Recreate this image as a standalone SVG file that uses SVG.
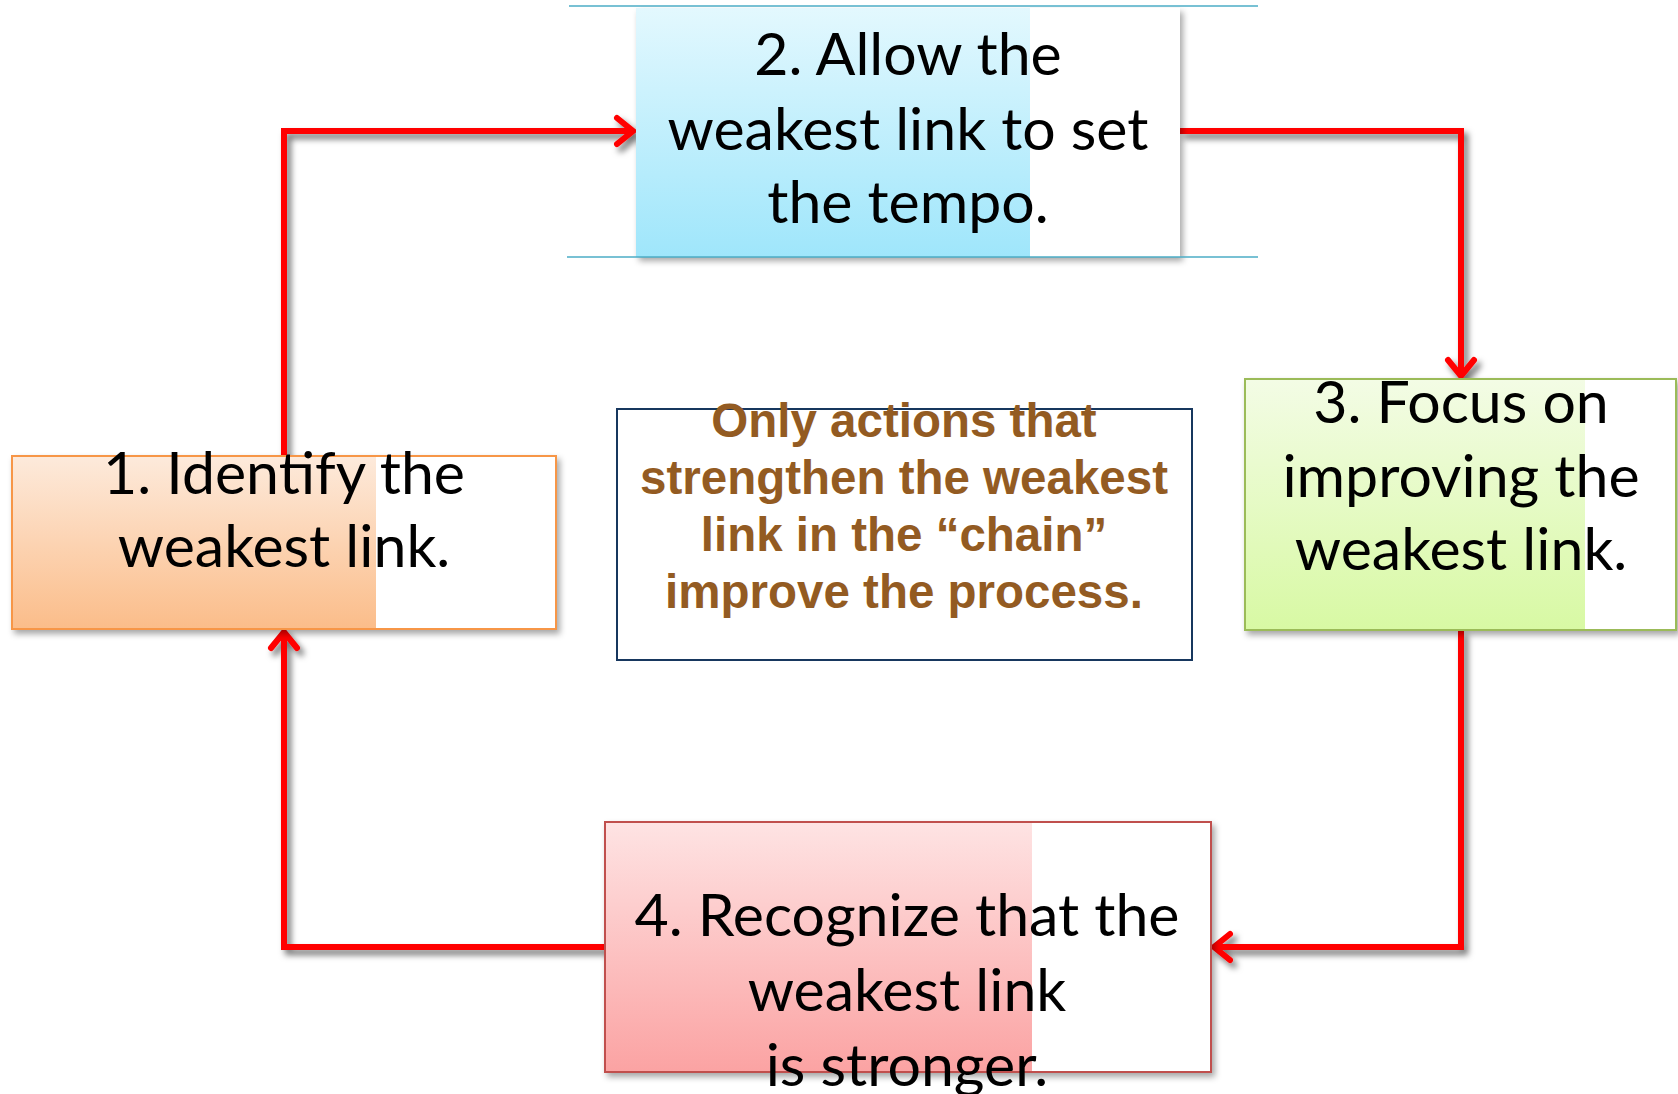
<svg xmlns="http://www.w3.org/2000/svg" width="1678" height="1094" viewBox="0 0 1678 1094">
<style>
.lbl{font-family:Lato,"Open Sans","Liberation Sans",sans-serif;font-size:59px;fill:#000;text-anchor:middle}
.ctr{font-family:"Liberation Sans",Arial,sans-serif;font-weight:bold;font-size:47.5px;fill:#935b22;text-anchor:middle}
.conn{fill:none;stroke:#ff0000;stroke-width:6;stroke-linejoin:miter}
</style>
<defs>
<filter id="sh" x="-10%" y="-10%" width="125%" height="130%">
<feDropShadow dx="3" dy="4" stdDeviation="3" flood-color="#000" flood-opacity="0.35"/>
</filter>
<filter id="lsh" x="-10%" y="-10%" width="120%" height="120%">
<feDropShadow dx="4" dy="5" stdDeviation="3" flood-color="#000" flood-opacity="0.55"/>
</filter>
<linearGradient id="gBlue" x1="0" y1="0" x2="0" y2="1"><stop offset="0" stop-color="#e3f8fe"/><stop offset="1" stop-color="#9fe6fb"/></linearGradient>
<linearGradient id="gOr" x1="0" y1="0" x2="0" y2="1"><stop offset="0" stop-color="#fdeadb"/><stop offset="1" stop-color="#fbbd8a"/></linearGradient>
<linearGradient id="gGr" x1="0" y1="0" x2="0" y2="1"><stop offset="0" stop-color="#f3fce5"/><stop offset="1" stop-color="#d8f9a4"/></linearGradient>
<linearGradient id="gRd" x1="0" y1="0" x2="0" y2="1"><stop offset="0" stop-color="#fee3e3"/><stop offset="1" stop-color="#fba3a3"/></linearGradient>
<marker id="arr" markerUnits="userSpaceOnUse" markerWidth="40" markerHeight="40" refX="20" refY="20" orient="auto" viewBox="0 0 40 40">
<path d="M4,7 L20,20 L4,33" fill="none" stroke="#ff0000" stroke-width="6" stroke-linecap="round" stroke-linejoin="miter"/>
</marker>
</defs>
<rect width="1678" height="1094" fill="#fff"/>

<g id="connectors" filter="url(#lsh)">
<path class="conn" d="M284,456 V131 H633" marker-end="url(#arr)"/>
<path class="conn" d="M1180,131 H1461 V376" marker-end="url(#arr)"/>
<path class="conn" d="M1461,630 V947 H1214" marker-end="url(#arr)"/>
<path class="conn" d="M605,947 H284 V632" marker-end="url(#arr)"/>
</g>

<g id="node2">
<rect x="636" y="8" width="544" height="249" fill="#fff" filter="url(#sh)"/>
<rect x="636" y="8" width="394" height="249" fill="url(#gBlue)"/>
<line x1="569" y1="6" x2="1258" y2="6" stroke="#4bacc6" stroke-width="1.5"/>
<line x1="567" y1="257" x2="1258" y2="257" stroke="#4bacc6" stroke-width="1.5"/>
<text class="lbl" x="908" y="75">2. Allow the</text>
<text class="lbl" x="908" y="150">weakest link to set</text>
<text class="lbl" x="908" y="223">the tempo.</text>
</g>

<g id="node1">
<rect x="12" y="456" width="544" height="173" fill="#fff" stroke="#f79646" stroke-width="2" filter="url(#sh)"/>
<rect x="13" y="457" width="363" height="171" fill="url(#gOr)"/>
<text class="lbl" x="284" y="494">1. Identify the</text>
<text class="lbl" x="284" y="567">weakest link.</text>
</g>

<g id="node3">
<rect x="1245" y="379" width="431" height="251" fill="#fff" stroke="#9bbb59" stroke-width="2" filter="url(#sh)"/>
<rect x="1246" y="380" width="339" height="249" fill="url(#gGr)"/>
<text class="lbl" x="1461" y="423">3. Focus on</text>
<text class="lbl" x="1461" y="497">improving the</text>
<text class="lbl" x="1461" y="570">weakest link.</text>
</g>

<g id="node4">
<rect x="605" y="822" width="606" height="250" fill="#fff" stroke="#c0504d" stroke-width="2" filter="url(#sh)"/>
<rect x="606" y="823" width="426" height="248" fill="url(#gRd)"/>
<text class="lbl" x="907" y="936">4. Recognize that the</text>
<text class="lbl" x="907" y="1011">weakest link</text>
<text class="lbl" x="907" y="1086">is stronger.</text>
</g>

<g id="center">
<rect x="617" y="409" width="575" height="251" fill="#fff" stroke="#17375e" stroke-width="2"/>
<text class="ctr" x="904" y="437">Only actions that</text>
<text class="ctr" x="904" y="494">strengthen the weakest</text>
<text class="ctr" x="904" y="551">link in the “chain”</text>
<text class="ctr" x="904" y="608">improve the process.</text>
</g>
</svg>
